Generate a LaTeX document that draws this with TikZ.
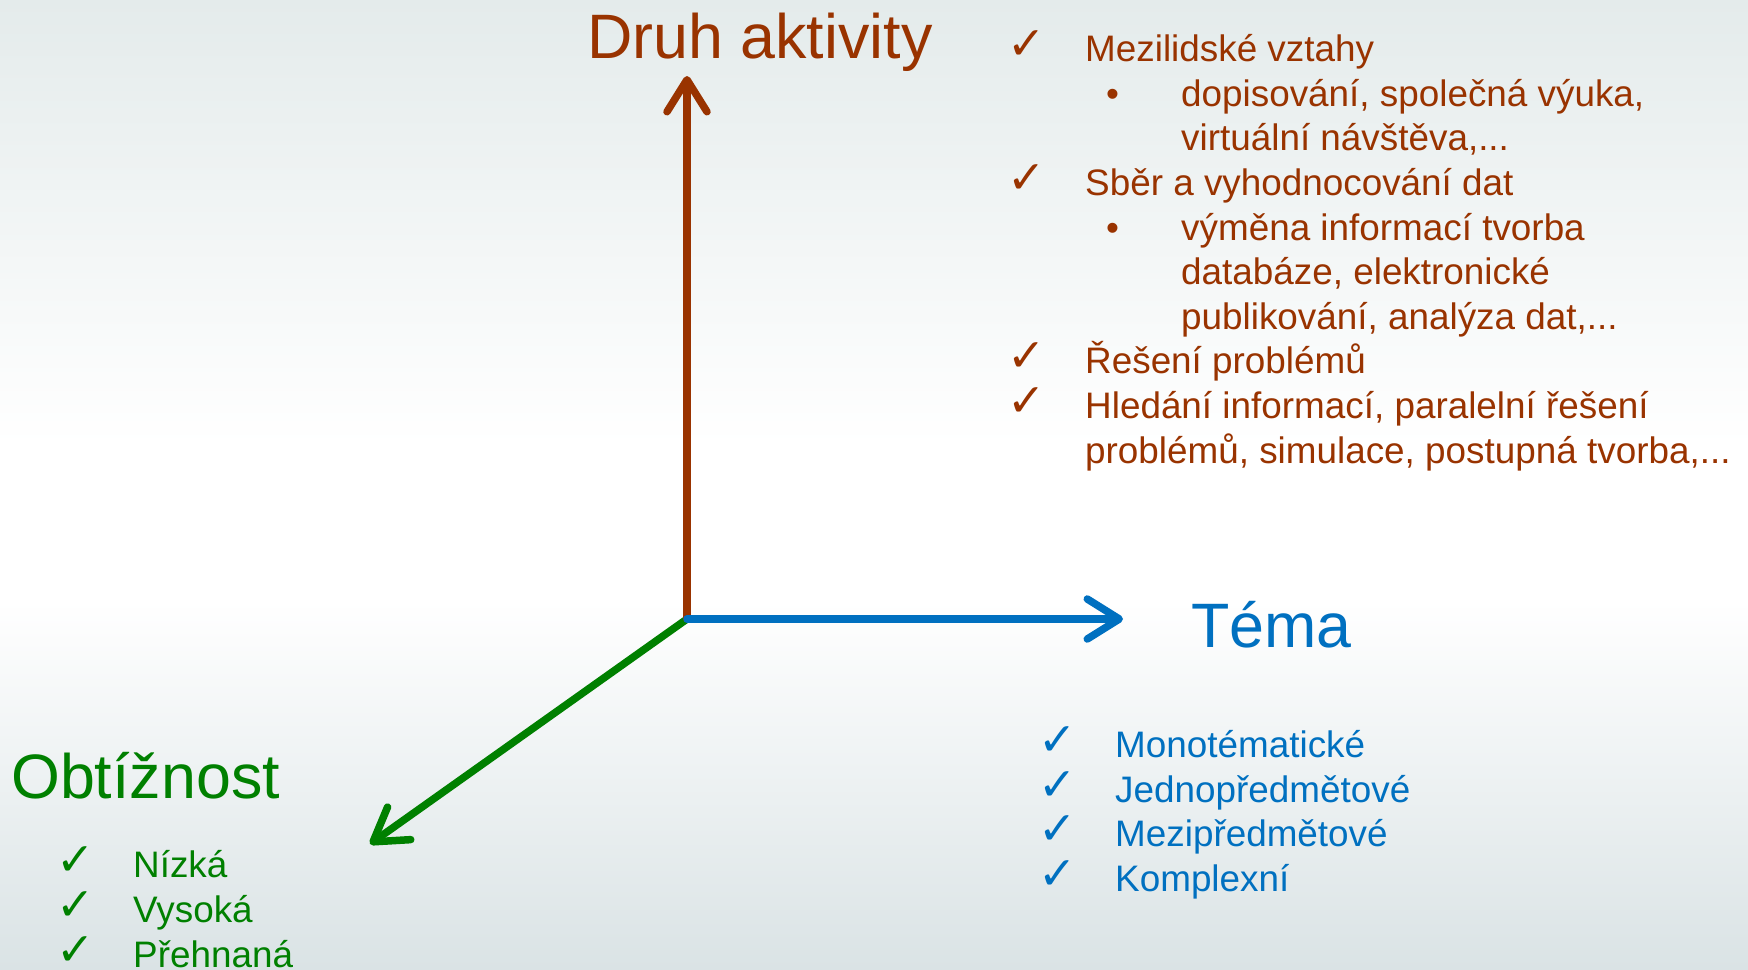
\documentclass[tikz,border=0pt]{standalone}
\usepackage{fontspec}
\setmainfont{Liberation Sans}
\newfontfamily\symfont{DejaVu Sans}
\usetikzlibrary{arrows.meta}
\definecolor{cbrown}{HTML}{993300}
\definecolor{cblue}{HTML}{0070C0}
\definecolor{cgreen}{HTML}{008000}
\definecolor{bgtop}{HTML}{E4EBEB}
\definecolor{bgbot}{HTML}{DAE3E5}
\pgfdeclareverticalshading{bgshade}{100bp}{color(0bp)=(bgbot); color(25bp)=(bgbot); color(44bp)=(white); color(52bp)=(white); color(75bp)=(bgtop); color(100bp)=(bgtop)}
\tikzset{
  title/.style={anchor=base west, inner sep=0pt, font=\fontsize{63}{70}\selectfont},
  item/.style={anchor=base west, inner sep=0pt, font=\fontsize{37}{44.6}\selectfont},
  tick/.style={anchor=base west, inner sep=0pt, font=\symfont\fontsize{46}{50}\selectfont},
  bul/.style={anchor=base west, inner sep=0pt, font=\fontsize{37}{44.6}\selectfont},
  axis/.style={line width=7.5bp, line cap=round, -{Straight Barb[length=32bp,width=40bp,round]}}
}
\begin{document}
\begin{tikzpicture}[x=1bp,y=-1bp]
\useasboundingbox (0,0) rectangle (1748,969);
\shade[shading=bgshade] (0,0) rectangle (1748,969);

% axes
\coordinate (O) at (687,619);
\coordinate (up) at (687,76);
\coordinate (right) at (1123,619);
\coordinate (down) at (370,844);
\draw[axis, cgreen] (O) -- (down);
\draw[axis, cbrown] (O) -- (up);
\draw[axis, cblue] (O) -- (right);

% titles
\node[title, text=cbrown] (tdruh) at (587,58) {Druh aktivity};
\node[title, text=cblue] (ttema) at (1191,647) {Téma};
\node[title, text=cgreen] (tobt) at (11,798) {Obtížnost};

% brown list
\begin{scope}[text=cbrown]
\node[tick] (b1c) at (1007,59) {✓};
\node[item] (b1) at (1085,61) {Mezilidské vztahy};
\node[bul] (b2b) at (1106,106) {•};
\node[item] (b2) at (1181,106) {dopisování, společná výuka,};
\node[item] (b3) at (1181,150) {virtuální návštěva,...};
\node[tick] (b4c) at (1007,193) {✓};
\node[item] (b4) at (1085,195) {Sběr a vyhodnocování dat};
\node[bul] (b5b) at (1106,240) {•};
\node[item] (b5) at (1181,240) {výměna informací tvorba};
\node[item] (b6) at (1181,284) {databáze, elektronické};
\node[item] (b7) at (1181,329) {publikování, analýza dat,...};
\node[tick] (b8c) at (1007,371) {✓};
\node[item] (b8) at (1085,373) {Řešení problémů};
\node[tick] (b9c) at (1007,416) {✓};
\node[item] (b9) at (1085,418) {Hledání informací, paralelní řešení};
\node[item] (b10) at (1085,463) {problémů, simulace, postupná tvorba,...};
\end{scope}

% blue list
\begin{scope}[text=cblue]
\node[tick] (m1c) at (1038,755) {✓};
\node[item] (m1) at (1115,757) {Monotématické};
\node[tick] (m2c) at (1038,800) {✓};
\node[item] (m2) at (1115,802) {Jednopředmětové};
\node[tick] (m3c) at (1038,844) {✓};
\node[item] (m3) at (1115,846) {Mezipředmětové};
\node[tick] (m4c) at (1038,889) {✓};
\node[item] (m4) at (1115,891) {Komplexní};
\end{scope}

% green list
\begin{scope}[text=cgreen]
\node[tick] (g1c) at (56,875) {✓};
\node[item] (g1) at (133,877) {Nízká};
\node[tick] (g2c) at (56,920) {✓};
\node[item] (g2) at (133,922) {Vysoká};
\node[tick] (g3c) at (56,965) {✓};
\node[item] (g3) at (133,967) {Přehnaná};
\end{scope}
\end{tikzpicture}
\end{document}
